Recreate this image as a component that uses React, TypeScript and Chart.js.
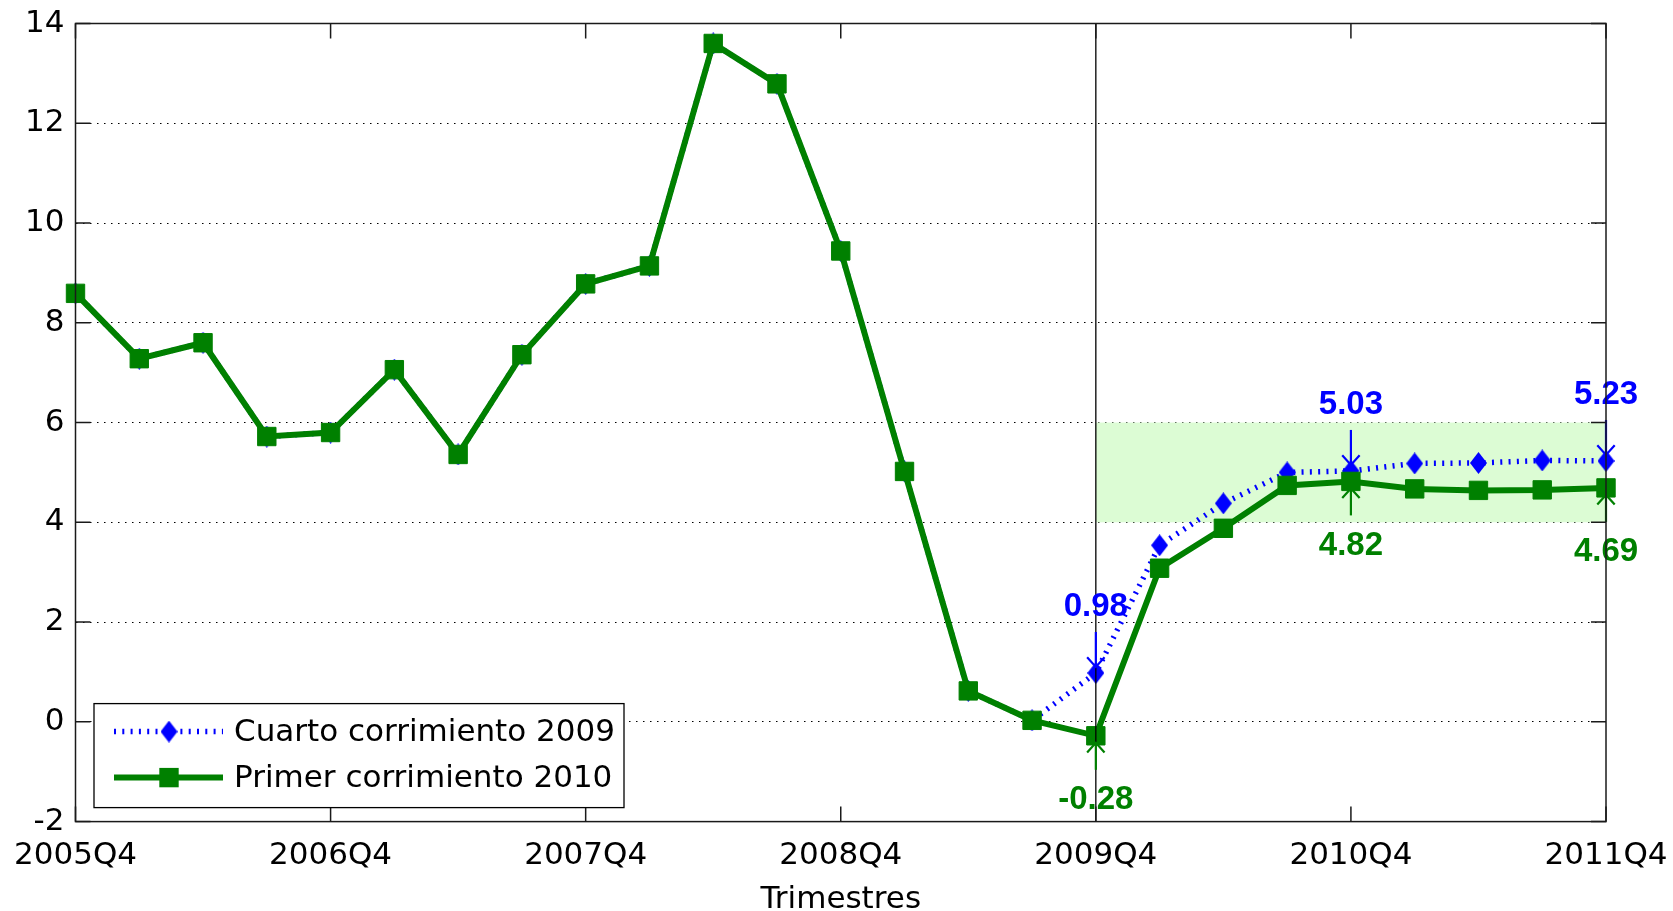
import React, { useEffect, useRef } from 'react';
import { Chart, registerables } from 'chart.js';

Chart.register(...registerables);

// ---------------- data ----------------
const quarters = [
  '2005Q4', '2006Q1', '2006Q2', '2006Q3', '2006Q4', '2007Q1', '2007Q2', '2007Q3',
  '2007Q4', '2008Q1', '2008Q2', '2008Q3', '2008Q4', '2009Q1', '2009Q2', '2009Q3',
  '2009Q4', '2010Q1', '2010Q2', '2010Q3', '2010Q4', '2011Q1', '2011Q2', '2011Q3', '2011Q4',
];

const cuartoCorrimiento2009 = [
  8.59, 7.28, 7.6, 5.72, 5.8, 7.06, 5.36, 7.36,
  8.78, 9.14, 13.6, 12.79, 9.44, 5.02, 0.62, 0.03,
  0.98, 3.54, 4.38, 5.0, 5.03, 5.18, 5.19, 5.24, 5.23,
];

const primerCorrimiento2010 = [
  8.59, 7.28, 7.6, 5.72, 5.8, 7.06, 5.36, 7.36,
  8.78, 9.14, 13.6, 12.79, 9.44, 5.02, 0.62, 0.03,
  -0.28, 3.08, 3.88, 4.74, 4.82, 4.67, 4.64, 4.65, 4.69,
];

const seriesLabels = ['Cuarto corrimiento 2009', 'Primer corrimiento 2010'];
const xTickLabels = ['2005Q4', '2006Q4', '2007Q4', '2008Q4', '2009Q4', '2010Q4', '2011Q4'];
const yTickRange = [-2, 14];
const yTickStep = 2;
const xTitle = 'Trimestres';

const bandRange = [4, 6];
const bandQuarters = ['2009Q4', '2011Q4'];
const forecastStart = '2009Q4';
const annotatedQuarters = ['2009Q4', '2010Q4', '2011Q4'];

// ---------------- styles ----------------
const BLUE = '#0000ff';
const GREEN = '#008000';
const FONT = 'DejaVu Sans';
const LABEL_FONT = 'Liberation Sans';

function makeDiamond(w: number, h: number, color: string) {
  const c = document.createElement('canvas');
  c.width = w;
  c.height = h;
  const g = c.getContext('2d')!;
  g.fillStyle = color;
  g.beginPath();
  g.moveTo(w / 2, 0);
  g.lineTo(w, h / 2);
  g.lineTo(w / 2, h);
  g.lineTo(0, h / 2);
  g.closePath();
  g.fill();
  return c;
}

function drawArrow(ctx: CanvasRenderingContext2D, x: number, yFrom: number, yTo: number, color: string) {
  const dir = yTo > yFrom ? 1 : -1;
  ctx.strokeStyle = color;
  ctx.lineWidth = 2.2;
  ctx.beginPath();
  ctx.moveTo(x, yFrom);
  ctx.lineTo(x, yTo);
  ctx.stroke();
  const hl = 13;
  const ang = (42 * Math.PI) / 180;
  ctx.beginPath();
  ctx.moveTo(x - Math.sin(ang) * hl, yTo - dir * Math.cos(ang) * hl);
  ctx.lineTo(x, yTo);
  ctx.lineTo(x + Math.sin(ang) * hl, yTo - dir * Math.cos(ang) * hl);
  ctx.stroke();
}

const decorPlugin = {
  id: 'matlabDecor',
  beforeDatasetsDraw(chart: any) {
    const { ctx, scales } = chart;
    const x = scales.x;
    const y = scales.y;
    const x0 = x.getPixelForValue(quarters.indexOf(bandQuarters[0]));
    const x1 = x.getPixelForValue(quarters.indexOf(bandQuarters[1]));
    const yTop = y.getPixelForValue(bandRange[1]);
    const yBot = y.getPixelForValue(bandRange[0]);
    ctx.save();
    ctx.fillStyle = '#dcfcd4';
    ctx.fillRect(x0, yTop, x1 - x0, yBot - yTop);
    ctx.restore();
  },
  afterDatasetsDraw(chart: any) {
    const { ctx, chartArea: a, scales } = chart;
    const x = scales.x;
    const y = scales.y;
    ctx.save();

    // vertical line at forecast start
    const xf = x.getPixelForValue(quarters.indexOf(forecastStart));
    ctx.strokeStyle = '#000';
    ctx.lineWidth = 1.3;
    ctx.beginPath();
    ctx.moveTo(xf, a.top);
    ctx.lineTo(xf, a.bottom);
    ctx.stroke();

    // annotations
    annotatedQuarters.forEach((q) => {
      const i = quarters.indexOf(q);
      const px = x.getPixelForValue(i);
      const vb = cuartoCorrimiento2009[i];
      const vg = primerCorrimiento2010[i];
      const pb = y.getPixelForValue(vb);
      const pg = y.getPixelForValue(vg);
      drawArrow(ctx, px, pb - 41, pb - 6, BLUE);
      drawArrow(ctx, px, pg + 34, pg + 7, GREEN);
      ctx.font = `bold 33px "${LABEL_FONT}"`;
      ctx.textAlign = 'center';
      ctx.textBaseline = 'middle';
      ctx.fillStyle = BLUE;
      ctx.fillText(vb.toFixed(2), px, pb - 66);
      ctx.fillStyle = GREEN;
      ctx.fillText(vg.toFixed(2), px, pg + 64);
    });

    // axes box
    ctx.strokeStyle = '#1a1a1a';
    ctx.lineWidth = 1.5;
    ctx.strokeRect(a.left, a.top, a.right - a.left, a.bottom - a.top);

    // inward tick marks
    const tl = 15;
    ctx.beginPath();
    xTickLabels.forEach((q) => {
      const px = x.getPixelForValue(quarters.indexOf(q));
      ctx.moveTo(px, a.bottom);
      ctx.lineTo(px, a.bottom - tl);
      ctx.moveTo(px, a.top);
      ctx.lineTo(px, a.top + tl);
    });
    for (let v = yTickRange[0]; v <= yTickRange[1]; v += yTickStep) {
      const py = y.getPixelForValue(v);
      ctx.moveTo(a.left, py);
      ctx.lineTo(a.left + tl, py);
      ctx.moveTo(a.right, py);
      ctx.lineTo(a.right - tl, py);
    }
    ctx.stroke();

    // legend
    const lx = a.left + 18.5;
    const ly = a.bottom - 118;
    const lw = 530;
    const lh = 104;
    ctx.fillStyle = '#fff';
    ctx.fillRect(lx, ly, lw, lh);
    ctx.strokeStyle = '#000';
    ctx.lineWidth = 1.3;
    ctx.strokeRect(lx, ly, lw, lh);
    const rows = [ly + 28, ly + 74];
    chart.data.datasets.forEach((ds: any, k: number) => {
      const ry = rows[k];
      ctx.save();
      ctx.strokeStyle = ds.borderColor;
      ctx.lineWidth = ds.borderWidth;
      ctx.setLineDash(ds.borderDash || []);
      ctx.beginPath();
      ctx.moveTo(lx + 20, ry);
      ctx.lineTo(lx + 129, ry);
      ctx.stroke();
      ctx.restore();
      const mx = lx + 75;
      if (ds.pointStyle instanceof HTMLCanvasElement) {
        const c = ds.pointStyle;
        ctx.drawImage(c, mx - c.width / 2, ry - c.height / 2);
      } else {
        const s = ds.pointRadius * Math.SQRT1_2 + 0.5;
        ctx.fillStyle = ds.backgroundColor;
        ctx.fillRect(mx - s, ry - s, 2 * s, 2 * s);
      }
      ctx.fillStyle = '#000';
      ctx.font = `31px "${FONT}"`;
      ctx.textAlign = 'left';
      ctx.textBaseline = 'middle';
      ctx.fillText(ds.label, lx + 140, ry + 1);
    });

    ctx.restore();
  },
};

export default function App() {
  const ref = useRef<HTMLCanvasElement | null>(null);

  useEffect(() => {
    document.body.style.margin = '0';
    const canvas = ref.current;
    if (!canvas) return;
    const diamond = makeDiamond(17, 22, BLUE);

    const chart = new Chart(canvas, {
      type: 'line',
      data: {
        labels: quarters,
        datasets: [
          {
            label: seriesLabels[0],
            data: cuartoCorrimiento2009,
            borderColor: BLUE,
            backgroundColor: BLUE,
            borderWidth: 5.5,
            borderDash: [2, 6.3],
            borderCapStyle: 'butt',
            pointStyle: diamond as any,
            pointRadius: 9,
            tension: 0,
            order: 2,
          } as any,
          {
            label: seriesLabels[1],
            data: primerCorrimiento2010,
            borderColor: GREEN,
            backgroundColor: GREEN,
            borderWidth: 6,
            pointStyle: 'rect',
            pointRadius: 13,
            pointBorderWidth: 1,
            pointBorderColor: GREEN,
            pointBackgroundColor: GREEN,
            tension: 0,
            order: 1,
          } as any,
        ],
      },
      options: {
        responsive: false,
        animation: false,
        layout: { padding: { top: 23.5, right: 67, left: 0, bottom: 0 } },
        plugins: {
          legend: { display: false },
          tooltip: { enabled: false },
        },
        scales: {
          x: {
            type: 'category',
            offset: false,
            grid: { display: false, drawTicks: false },
            border: { display: false },
            ticks: {
              autoSkip: false,
              maxRotation: 0,
              minRotation: 0,
              padding: 16,
              color: '#000',
              font: { family: FONT, size: 31 },
              callback: (_v: any, i: number) => (xTickLabels.includes(quarters[i]) ? quarters[i] : ''),
            },
            title: {
              display: true,
              text: xTitle,
              color: '#000',
              font: { family: FONT, size: 31, lineHeight: 1 },
              padding: { top: 0, bottom: -4 },
            },
            afterFit: (s: any) => {
              s.height = 89.4;
              s.paddingLeft = 0;
              s.paddingRight = 0;
              s.paddingTop = 0;
              s.paddingBottom = 0;
            },
          },
          y: {
            min: yTickRange[0],
            max: yTickRange[1],
            ticks: {
              stepSize: yTickStep,
              padding: 11,
              color: '#000',
              font: { family: FONT, size: 31 },
            },
            grid: { color: '#000', lineWidth: 1, drawTicks: false },
            border: { display: false, dash: [1.5, 5.5] },
            afterFit: (s: any) => {
              s.width = 75.5;
              s.paddingLeft = 0;
              s.paddingRight = 0;
              s.paddingTop = 0;
              s.paddingBottom = 0;
            },
          },
        },
      } as any,
      plugins: [decorPlugin],
    });

    return () => chart.destroy();
  }, []);

  return (
    <div style={{ width: 1673, height: 911 }}>
      <canvas ref={ref} width={1673} height={911} style={{ display: 'block' }} />
    </div>
  );
}
